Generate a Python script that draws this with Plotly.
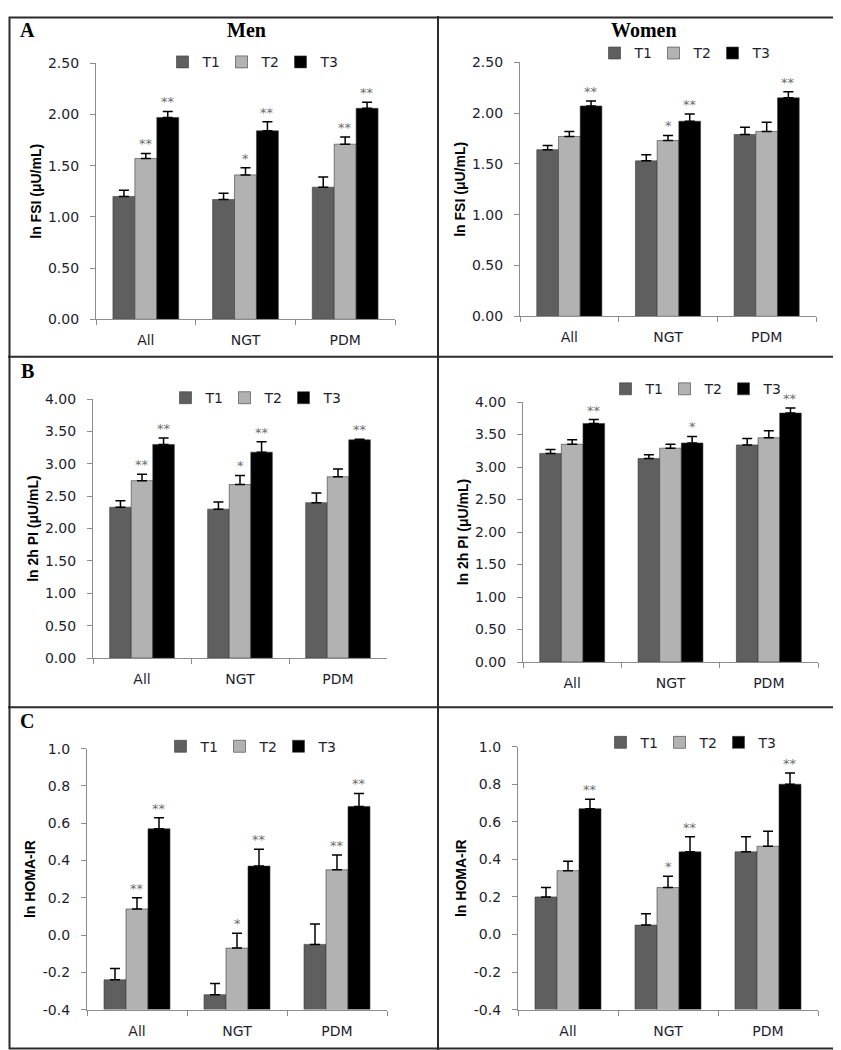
import plotly.graph_objects as go

W, H = 841, 1050

categories = ["All", "NGT", "PDM"]
series_names = ["T1", "T2", "T3"]
series_colors = ["#5f5f5f", "#b2b2b2", "#000000"]

# ---- Panel A: ln FSI (µU/mL) ----
fsi_men_means = [[1.20, 1.17, 1.29], [1.57, 1.41, 1.71], [1.97, 1.84, 2.06]]
fsi_men_se = [[0.06, 0.06, 0.10], [0.05, 0.07, 0.07], [0.06, 0.09, 0.06]]
fsi_men_sig = [["", "", ""], ["**", "*", "**"], ["**", "**", "**"]]

fsi_women_means = [[1.64, 1.53, 1.79], [1.77, 1.73, 1.82], [2.07, 1.92, 2.15]]
fsi_women_se = [[0.04, 0.06, 0.07], [0.05, 0.05, 0.09], [0.05, 0.07, 0.06]]
fsi_women_sig = [["", "", ""], ["", "*", ""], ["**", "**", "**"]]

# ---- Panel B: ln 2h PI (µU/mL) ----
pi_men_means = [[2.33, 2.30, 2.40], [2.74, 2.68, 2.80], [3.30, 3.18, 3.37]]
pi_men_se = [[0.10, 0.11, 0.15], [0.10, 0.14, 0.12], [0.10, 0.16, 0.01]]
pi_men_sig = [["", "", ""], ["**", "*", ""], ["**", "**", "**"]]

pi_women_means = [[3.21, 3.13, 3.34], [3.35, 3.29, 3.45], [3.67, 3.37, 3.83]]
pi_women_se = [[0.06, 0.06, 0.10], [0.07, 0.06, 0.11], [0.06, 0.10, 0.08]]
pi_women_sig = [["", "", ""], ["", "", ""], ["**", "*", "**"]]

# ---- Panel C: ln HOMA-IR ----
homa_men_means = [[-0.24, -0.32, -0.05], [0.14, -0.07, 0.35], [0.57, 0.37, 0.69]]
homa_men_se = [[0.06, 0.06, 0.11], [0.06, 0.08, 0.08], [0.06, 0.09, 0.07]]
homa_men_sig = [["", "", ""], ["**", "*", "**"], ["**", "**", "**"]]

homa_women_means = [[0.20, 0.05, 0.44], [0.34, 0.25, 0.47], [0.67, 0.44, 0.80]]
homa_women_se = [[0.05, 0.06, 0.08], [0.05, 0.06, 0.08], [0.05, 0.08, 0.06]]
homa_women_sig = [["", "", ""], ["", "*", ""], ["**", "**", "**"]]

# tick labels
ticks_2_5 = [0.0, 0.5, 1.0, 1.5, 2.0, 2.5]
ticks_2_5_text = ["0.00", "0.50", "1.00", "1.50", "2.00", "2.50"]
ticks_4 = [0.0, 0.5, 1.0, 1.5, 2.0, 2.5, 3.0, 3.5, 4.0]
ticks_4_text = ["0.00", "0.50", "1.00", "1.50", "2.00", "2.50", "3.00", "3.50", "4.00"]
ticks_homa = [-0.4, -0.2, 0.0, 0.2, 0.4, 0.6, 0.8, 1.0]
ticks_homa_text = ["-0.4", "-0.2", "0.0", "0.2", "0.4", "0.6", "0.8", "1.0"]

FSI_TITLE = "ln FSI (μU/mL)"
PI_TITLE = "ln 2h PI (μU/mL)"
HOMA_TITLE = "ln HOMA-IR"

# panel layout in pixels: plot-area left, right, top, bottom ; legend centre
panels = [
    dict(means=fsi_men_means, se=fsi_men_se, sig=fsi_men_sig, rng=(0, 2.5), tv=ticks_2_5, tt=ticks_2_5_text,
         title=FSI_TITLE, box=(88, 387, 48, 308), leg=(243, 47)),
    dict(means=fsi_women_means, se=fsi_women_se, sig=fsi_women_sig, rng=(0, 2.5), tv=ticks_2_5, tt=ticks_2_5_text,
         title=FSI_TITLE, box=(512, 808, 47, 305), leg=(675, 38)),
    dict(means=pi_men_means, se=pi_men_se, sig=pi_men_sig, rng=(0, 4.0), tv=ticks_4, tt=ticks_4_text,
         title=PI_TITLE, box=(85, 379, 389, 652), leg=(246, 388)),
    dict(means=pi_women_means, se=pi_women_se, sig=pi_women_sig, rng=(0, 4.0), tv=ticks_4, tt=ticks_4_text,
         title=PI_TITLE, box=(515, 810, 392, 656), leg=(686, 379)),
    dict(means=homa_men_means, se=homa_men_se, sig=homa_men_sig, rng=(-0.4, 1.0), tv=ticks_homa, tt=ticks_homa_text,
         title=HOMA_TITLE, box=(79, 379, 744, 1009), leg=(241, 742)),
    dict(means=homa_women_means, se=homa_women_se, sig=homa_women_sig, rng=(-0.4, 1.0), tv=ticks_homa, tt=ticks_homa_text,
         title=HOMA_TITLE, box=(510, 810, 742, 1009), leg=(681, 738)),
]

TICK_FONT = dict(family="DejaVu Sans", size=14, color="#1e1e2e")
AXIS_COLOR = "#8c8c8c"
BARGAP = 0.34

fig = go.Figure()
layout = dict(width=W, height=H, margin=dict(l=0, r=0, t=0, b=0),
              paper_bgcolor="white", plot_bgcolor="white", barmode="group",
              bargap=BARGAP, bargroupgap=0, showlegend=True)
annotations = []

for p_i, p in enumerate(panels):
    n = "" if p_i == 0 else str(p_i + 1)
    xa, ya = "x" + n, "y" + n
    leg = "legend" + n
    x0, x1, y0, y1 = p["box"]
    base = p["rng"][0]
    nser = len(series_names)
    bw = (1 - BARGAP) / nser
    for k, name in enumerate(series_names):
        vals = p["means"][k]
        errs = p["se"][k]
        fig.add_trace(go.Bar(
            x=categories, y=[v - base for v in vals], base=base,
            name=name, legend=leg, xaxis=xa, yaxis=ya,
            marker=dict(color=series_colors[k], line=dict(color="#3a3a3a", width=0.6)),
            error_y=dict(type="data", array=errs, arrayminus=[0] * len(errs), symmetric=False,
                         color="#000000", thickness=1.5, width=5),
        ))
        for c_i, s in enumerate(p["sig"][k]):
            if s:
                annotations.append(dict(
                    x=c_i + (k - (nser - 1) / 2) * bw, y=vals[c_i] + errs[c_i],
                    xref=xa, yref=ya, text=s, showarrow=False, yanchor="bottom", yshift=0,
                    font=dict(family="DejaVu Sans", size=13, color="#6e6e6e")))
    axkey = "xaxis" + n
    aykey = "yaxis" + n
    layout[axkey] = dict(domain=[x0 / W, x1 / W], anchor=ya, type="category",
                         categoryorder="array", categoryarray=categories,
                         showline=True, linecolor=AXIS_COLOR, linewidth=1.2,
                         ticks="outside", tickson="boundaries", ticklen=5, tickcolor=AXIS_COLOR,
                         tickfont=TICK_FONT, ticklabelstandoff=8, showgrid=False, zeroline=False,
                         fixedrange=True)
    layout[aykey] = dict(domain=[1 - y1 / H, 1 - y0 / H], anchor=xa, range=list(p["rng"]),
                         tickvals=p["tv"], ticktext=p["tt"],
                         showline=True, linecolor=AXIS_COLOR, linewidth=1.2,
                         ticks="outside", ticklen=5, tickcolor=AXIS_COLOR,
                         tickfont=TICK_FONT, ticklabelstandoff=8, showgrid=False, zeroline=False,
                         title=dict(text="<b>" + p["title"] + "</b>", standoff=3,
                                    font=dict(family="Liberation Sans", size=14, color="#000000")),
                         fixedrange=True)
    lx, ly = p["leg"]
    layout[leg] = dict(orientation="h", x=lx / W, y=1 - ly / H, xanchor="center", yanchor="middle",
                       xref="paper", yref="paper", bgcolor="rgba(0,0,0,0)",
                       font=TICK_FONT, itemwidth=30, entrywidth=14, tracegroupgap=0)

# panel titles and letters
TITLE_FONT = dict(family="Liberation Serif", size=20, color="#000000")
for txt, px, py in [("<b>Men</b>", 238, 14), ("<b>Women</b>", 636, 14),
                    ("<b>A</b>", 19, 14), ("<b>B</b>", 19, 361), ("<b>C</b>", 19, 716)]:
    annotations.append(dict(x=px / W, y=1 - py / H, xref="paper", yref="paper", text=txt,
                            showarrow=False, xanchor="center", yanchor="middle", font=TITLE_FONT))

# panel frame lines
LINE = dict(color="#2b2b2b", width=2)
shapes = [
    dict(type="rect", xref="paper", yref="paper", x0=1.5 / W, x1=1 - 1.5 / W, y0=1.5 / H, y1=1 - 1.5 / H, line=LINE),
    dict(type="line", xref="paper", yref="paper", x0=430 / W, x1=430 / W, y0=0, y1=1, line=LINE),
    dict(type="line", xref="paper", yref="paper", x0=0, x1=1, y0=1 - 346 / H, y1=1 - 346 / H, line=LINE),
    dict(type="line", xref="paper", yref="paper", x0=0, x1=1, y0=1 - 702 / H, y1=1 - 702 / H, line=LINE),
]

layout["annotations"] = annotations
layout["shapes"] = shapes
fig.update_layout(**layout)
fig.write_html("out.html")
